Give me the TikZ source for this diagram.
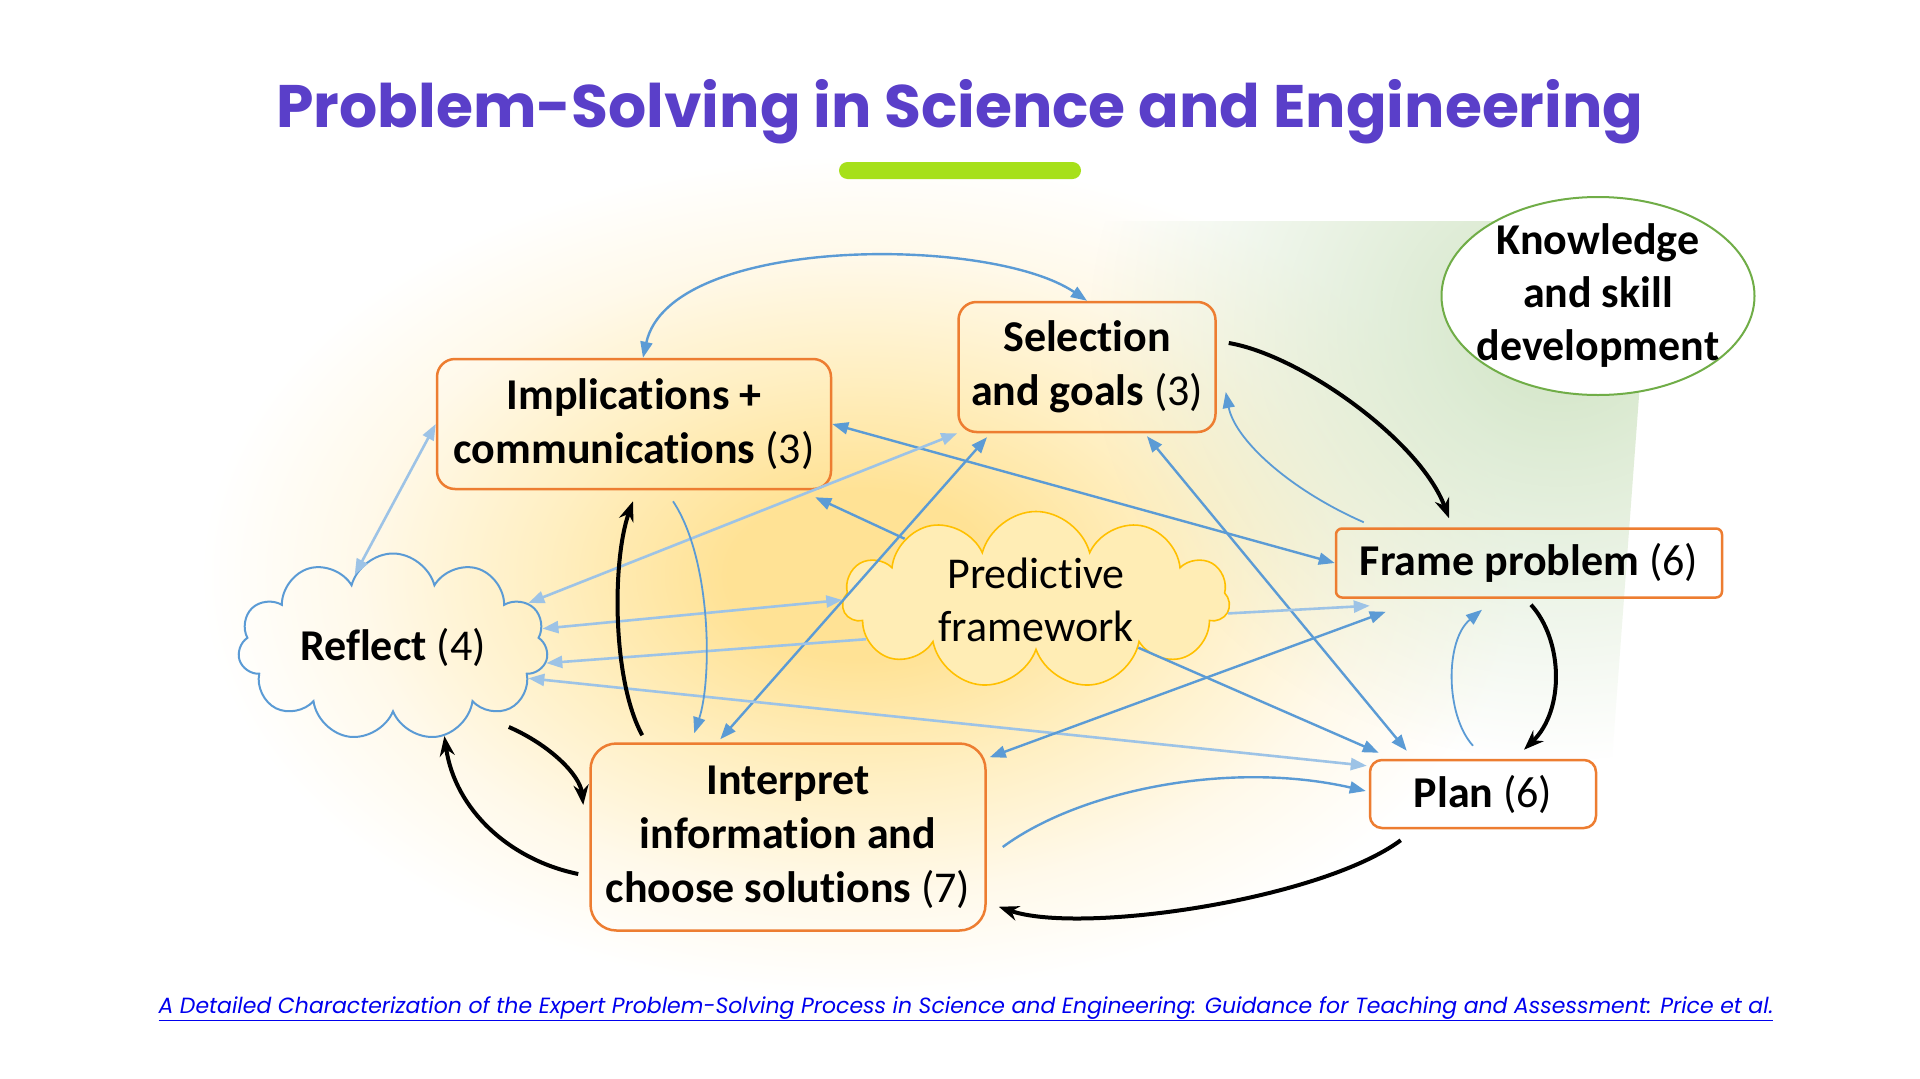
\documentclass[tikz,border=0pt]{standalone}
\usepackage{fontspec}
\setmainfont{Carlito}[Ligatures=NoCommon]
\newfontfamily\titlefont{Poppins}
\newfontfamily\citefont{Poppins}
\usetikzlibrary{shapes.geometric,shapes.symbols,arrows.meta,fadings}

\definecolor{titlepurple}{HTML}{5A3FC9}
\definecolor{barlime}{HTML}{A6E01A}
\definecolor{boxorange}{HTML}{ED7D31}
\definecolor{lineblue}{HTML}{5B9BD5}
\definecolor{lightblue}{HTML}{9DC3E6}
\definecolor{cloudgold}{HTML}{FFC000}
\definecolor{cloudfill}{HTML}{FFEDB5}
\definecolor{kgreen}{HTML}{70AD47}
\definecolor{kgreenbg}{HTML}{CFE3C2}
\definecolor{linkblue}{HTML}{0000EE}
\definecolor{glowcore}{HTML}{FFE295}
\definecolor{glowmid}{HTML}{FFEFC2}
\definecolor{glowedge}{HTML}{FFF9EA}

\pgfdeclareradialshading{glow}{\pgfpoint{0bp}{0bp}}{color(0bp)=(glowcore); color(5bp)=(glowcore); color(12bp)=(glowmid); color(19bp)=(glowedge); color(25bp)=(white); color(50bp)=(white)}
\tikzfading[name=greenfade, inner color=transparent!5, outer color=transparent!100]

\pgfdeclarelayer{behind}
\pgfsetlayers{behind,main}

\tikzset{
  stepbox/.style={draw=boxorange, line width=2.5pt, rounded corners=18pt, align=center,
    font=\fontsize{44}{54}\selectfont},
  bluearr/.style={draw=lineblue, line width=2.4pt, >={Triangle[length=16pt,width=12pt]}},
  thinarr/.style={draw=lineblue, line width=1.8pt, >={Triangle[length=16pt,width=12pt]}},
  lightarr/.style={draw=lightblue, line width=2.6pt, >={Triangle[length=16pt,width=12pt]}},
  blackarr/.style={draw=black, line width=4pt, >={Stealth[length=20pt,width=15pt]}}
}

\begin{document}
\begin{tikzpicture}[x=1pt, y=-1pt]
\useasboundingbox (0,0) rectangle (1920,1079);
% background glow
\begin{pgfonlayer}{behind}
\fill[white] (0,0) rectangle (1920,1079);
\shade[shading=glow] (860,575) ellipse [x radius=660, y radius=420];
\begin{scope}
\clip (900,221) -- (1652,221) -- (1612,760) -- (900,760) -- cycle;
\fill[kgreenbg, path fading=greenfade] (1560,330) ellipse [x radius=470, y radius=430];
\end{scope}
\end{pgfonlayer}

% title and bar
\node[anchor=base, font=\titlefont\bfseries\fontsize{60}{66}\selectfont, text=titlepurple] (title) at (960,127) {Problem-Solving in Science and Engineering};
\fill[barlime, rounded corners=8.5pt] (839,162) rectangle (1081,179);

% steps
\node[stepbox, minimum width=394pt, minimum height=130pt] (impl) at (634,424) {\textbf{Implications +}\\\textbf{communications} (3)};
\node[stepbox, minimum width=257pt, minimum height=130pt] (sel) at (1087,367) {\textbf{Selection}\\\textbf{and goals} (3)};
\node[stepbox, rounded corners=6pt, minimum width=386pt, minimum height=69pt] (frame) at (1529,563) {\textbf{Frame problem} (6)};
\node[stepbox, rounded corners=12pt, minimum width=226pt, minimum height=68pt] (plan) at (1483,794) {\textbf{Plan} (6)};
\node[stepbox, rounded corners=26pt, minimum width=395pt, minimum height=187pt] (interp) at (788,837) {\textbf{Interpret}\\\textbf{information and}\\\textbf{choose solutions} (7)};

% clouds
\node[cloud, cloud puffs=11, cloud ignores aspect, draw=lineblue, line width=2pt, minimum width=310pt, minimum height=187pt, font=\fontsize{44}{54}\selectfont] (refl) at (393,647) {\textbf{Reflect} (4)};
\node[cloud, cloud puffs=11, cloud ignores aspect, draw=cloudgold, fill=cloudfill, line width=1.6pt, minimum width=387pt, minimum height=177pt, inner sep=0pt, align=center, font=\fontsize{44}{53}\selectfont] (pred) at (1036,600) {Predictive\\framework};

% knowledge
\node[ellipse, draw=kgreen, fill=white, line width=2pt, minimum width=313pt, minimum height=198pt, inner xsep=-16pt, inner ysep=-15pt, align=center, font=\bfseries\fontsize{44}{53}\selectfont] (know) at (1598,296) {Knowledge\\and skill\\development};

% this one runs behind the cloud
\begin{pgfonlayer}{behind}
\draw[bluearr, <->] (impl.east) -- (frame.west);
\end{pgfonlayer}

% arcs on top
\draw[bluearr, <->] ([shift={(9,0)}]impl.north) .. controls (670,235) and (990,235) .. (sel.north);
\draw[blackarr, ->] ([shift={(12,-24)}]sel.east) .. controls (1300,355) and (1420,440) .. ([shift={(-80,-9)}]frame.north);
\draw[thinarr, ->] ([shift={(29,-5)}]frame.north west) .. controls (1290,490) and (1235,440) .. ([shift={(9,25)}]sel.east);

% straight links
\draw[bluearr, ->] (pred.155) -- ([shift={(-17,7)}]impl.south east);
\draw[lightarr, <->] (refl.18) -- (sel.south west);
\draw[bluearr, <->] ([shift={(131,-3)}]interp.north west) -- ([shift={(-100,4)}]sel.south);
\draw[bluearr, <->] ([shift={(60,3)}]sel.south) -- ([shift={(38,-8)}]plan.north west);
\draw[lightarr, <->] (refl.118) -- (impl.west);
\draw[lightarr, <->] (refl.7) -- (pred.west);
\draw[lightarr, ->] (pred.193) -- (refl.-6);
\draw[lightarr, <->] ([shift={(-2,7)}]plan.north west) -- (refl.-13);
\draw[lightarr, ->] (pred.-4) -- ([shift={(35,7)}]frame.south west);
\draw[bluearr, <->] ([shift={(51,13)}]frame.south west) -- ([shift={(3,15)}]interp.north east);
\draw[bluearr, ->] (pred.-25) -- ([shift={(10,-6)}]plan.north west);

% impl / interp pair
\draw[blackarr, ->] ([shift={(53,-7)}]interp.north west) .. controls (612,680) and (612,560) .. ([shift={(-1,11)}]impl.south);
\draw[thinarr, ->] ([shift={(39,11)}]impl.south) .. controls (712,560) and (712,680) .. ([shift={(105,-9)}]interp.north west);

% frame / plan pair
\draw[thinarr, ->] ([shift={(-10,-13)}]plan.north) .. controls (1445,715) and (1445,640) .. ([shift={(-47,11)}]frame.south);
\draw[blackarr, ->] ([shift={(2,6)}]frame.south) .. controls (1563,640) and (1565,710) .. ([shift={(41,-9)}]plan.north);

% interp / plan pair
\draw[bluearr, ->] ([shift={(16,10)}]interp.east) .. controls (1080,790) and (1230,760) .. ([shift={(-3,-3)}]plan.west);
\draw[blackarr, ->] ([shift={(32,11)}]plan.south west) .. controls (1320,900) and (1080,935) .. ([shift={(12,-25)}]interp.south east);

% reflect / interp pair
\draw[blackarr, ->] ([shift={(36,22)}]refl.-36) .. controls (550,745) and (580,775) .. ([shift={(-6,-32)}]interp.west);
\draw[blackarr, ->] ([shift={(-11,37)}]interp.west) .. controls (510,860) and (455,810) .. (refl.-60);

% source
\node[anchor=base, font=\citefont\itshape\fontsize{22}{26}\selectfont, text=linkblue] (cite) at (966,1013) {\underline{A Detailed Characterization of the Expert Problem-Solving Process in Science and Engineering: Guidance for Teaching and Assessment: Price et al.}};
\end{tikzpicture}
\end{document}
